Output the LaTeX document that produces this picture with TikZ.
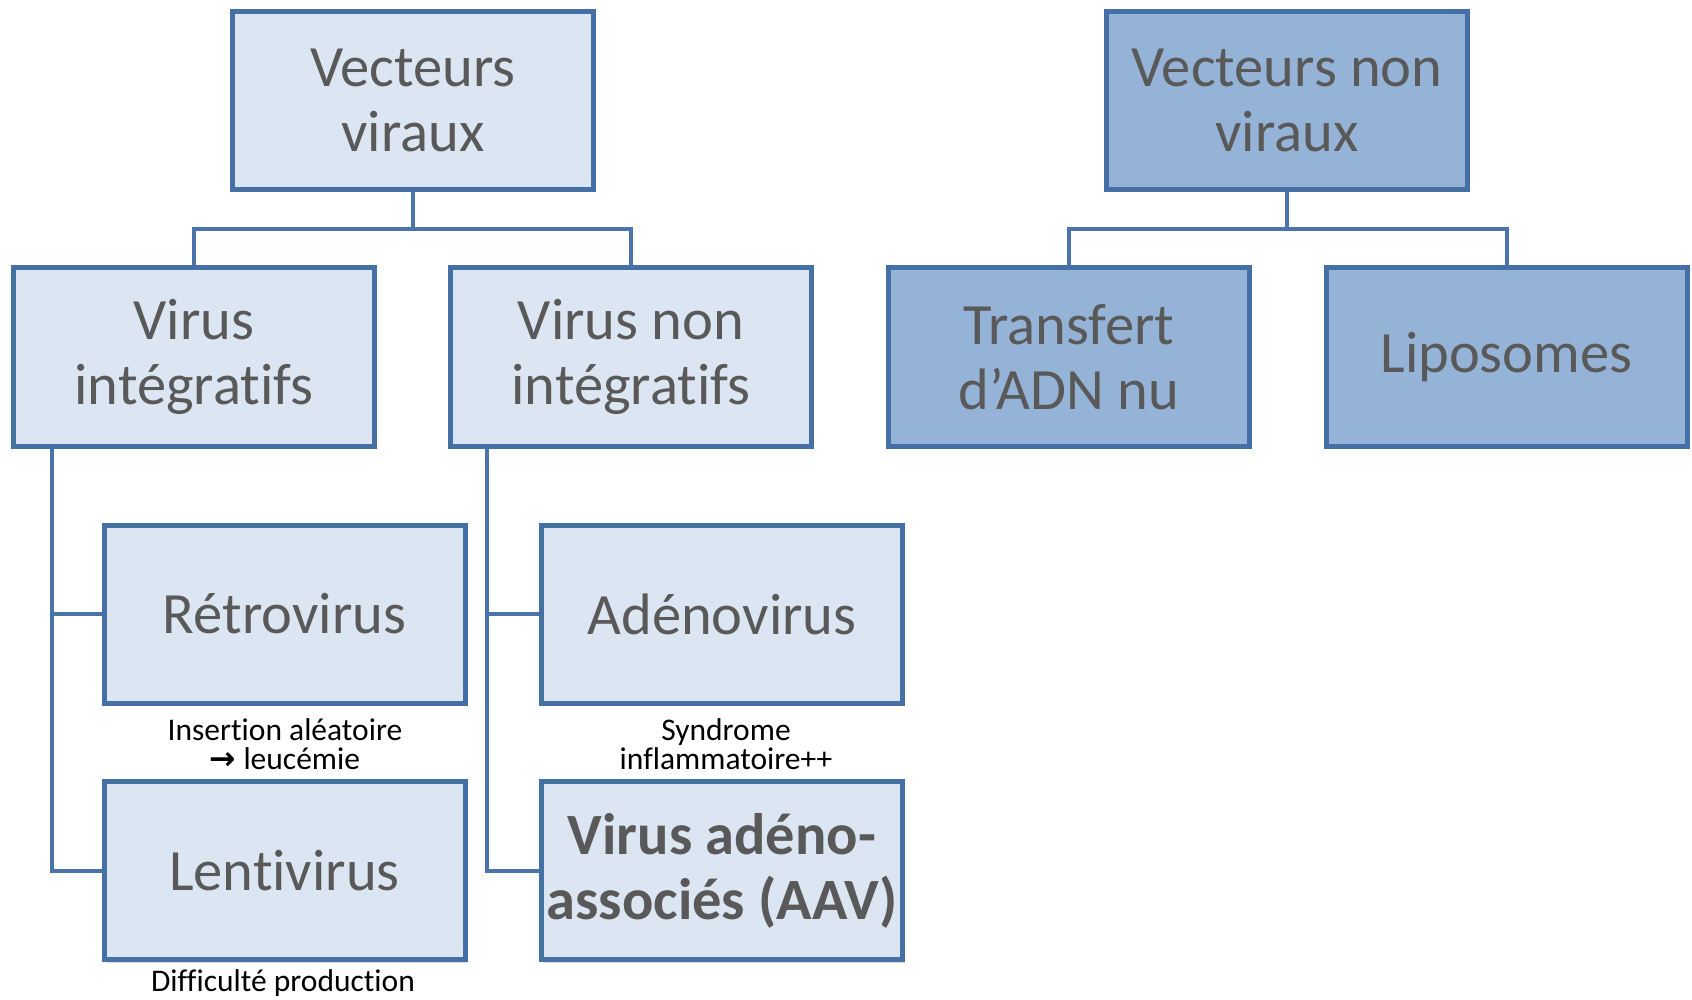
\documentclass[tikz,border=0pt]{standalone}
\usepackage{fontspec}
\setmainfont{Carlito}[Ligatures={NoCommon}]
\newfontfamily\symfont{DejaVu Sans}
\usetikzlibrary{shadows}
\definecolor{lightfill}{HTML}{DCE6F2}
\definecolor{darkfill}{HTML}{95B3D7}
\definecolor{bordercol}{HTML}{4470A6}
\definecolor{linecol}{HTML}{4A74AA}
\definecolor{txt}{HTML}{595959}
\begin{document}
\begin{tikzpicture}[x=1pt,y=-1pt,
  box/.style={draw=bordercol, line width=5pt, minimum width=361pt, minimum height=178pt,
    inner sep=0pt, align=center, text=txt, font=\fontsize{58.5}{65}\selectfont,
    drop shadow={opacity=0.25, shadow xshift=2pt, shadow yshift=-3pt}},
  lightbox/.style={box, fill=lightfill},
  darkbox/.style={box, fill=darkfill},
  conn/.style={draw=linecol, line width=4pt},
  note/.style={align=center, text=black, inner sep=0pt, font=\fontsize{31.5}{29.5}\selectfont}]
\useasboundingbox (0,0) rectangle (1692,1000);
% top row
\node[lightbox] (vv) at (413,100.5) {Vecteurs\\viraux};
\node[darkbox] (vnv) at (1287,100.5) {Vecteurs non\\viraux};
% second row
\node[lightbox] (vi) at (194,357) {Virus\\intégratifs};
\node[lightbox] (vni) at (631,357) {Virus non\\intégratifs};
\node[darkbox] (tr) at (1069,357) {Transfert\\d’ADN nu};
\node[darkbox] (lip) at (1506.5,357) {Liposomes};
% third/fourth rows
\node[lightbox] (retro) at (284.5,614) {Rétrovirus};
\node[lightbox] (lenti) at (284.5,870.5) {Lentivirus};
\node[lightbox] (adeno) at (722,614) {Adénovirus};
\node[lightbox, font=\fontsize{58.5}{65}\selectfont\bfseries] (aav) at (722,870.5) {Virus adéno-\\associés (AAV)};
% notes
\node[note] (n1) at (285,744) {Insertion aléatoire\\{\symfont\bfseries →} leucémie};
\node[note] (n2) at (726,744) {Syndrome\\inflammatoire++};
\node[note, anchor=base] (n3) at (283,991) {Difficulté production};
% connectors
\coordinate (barL) at (0,229);
\coordinate (barR) at (0,229);
\coordinate (lx) at (52,0);
\coordinate (rx) at (487,0);
\draw[conn] (vv.south) -- (vv.south |- barL) -| (vi.north);
\draw[conn] (vv.south |- barL) -| (vni.north);
\draw[conn] (vnv.south) -- (vnv.south |- barR) -| (tr.north);
\draw[conn] (vnv.south |- barR) -| (lip.north);
\draw[conn] (vi.south -| lx) |- (lenti.west);
\draw[conn] (vi.south -| lx) |- (retro.west);
\draw[conn] (vni.south -| rx) |- (aav.west);
\draw[conn] (vni.south -| rx) |- (adeno.west);
\end{tikzpicture}
\end{document}
